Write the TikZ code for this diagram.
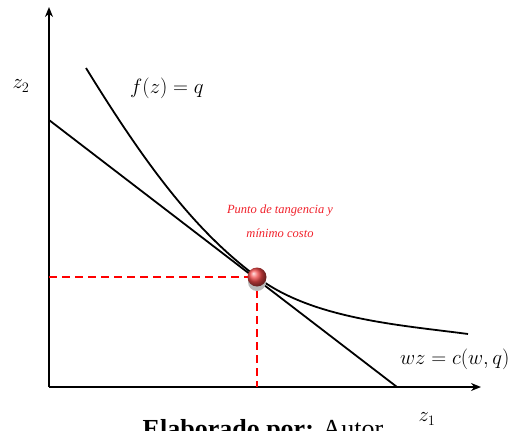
\documentclass[tikz,border=0pt]{standalone}
\usepackage{fontspec}
\setmainfont{Liberation Serif}
\usetikzlibrary{arrows.meta}
\definecolor{dotred}{HTML}{F04848}
\definecolor{txtred}{HTML}{F0202A}
\tikzset{
  axis/.style={line width=2pt,-{Stealth[length=10pt,width=8pt]}},
  curveline/.style={line width=1.8pt},
  guide/.style={red,line width=1.7pt,dash pattern=on 8pt off 5pt},
  lbl/.style={inner sep=0pt,font=\fontsize{21}{24}\selectfont},
  note/.style={inner sep=0pt,text=txtred,font=\fontsize{12.5}{14}\selectfont\itshape}
}
\begin{document}
\begin{tikzpicture}[x=1pt,y=-1pt]
\useasboundingbox (0,0) rectangle (517,431);
\clip (0,0) rectangle (517,431);
% axes
\coordinate (O) at (49,387);
\coordinate (ytop) at (49,7);
\coordinate (xend) at (481,387);
\draw[axis] (O) -- (ytop);
\draw[axis] (O) -- (xend);
% budget line
\coordinate (b1) at (49,120);
\coordinate (b2) at (397,387);
\draw[curveline] (b1) -- (b2);
% isoquant
\coordinate (c1) at (86,68);
\coordinate (T) at (257,277);
\coordinate (c2) at (468,334);
\draw[curveline] (c1) .. controls (150,172) and (198,233) .. (T)
  .. controls (312,319) and (400,325) .. (c2);
% guides
\coordinate (gx) at (49,277);
\coordinate (gy) at (257,387);
\draw[guide] (gx) -- (T);
\draw[guide] (T) -- (gy);
% dot
\fill[gray!55] (257,282) circle (9pt);
\node[circle,minimum size=19pt,inner sep=0pt,ball color=dotred,shading=ball] (dot) at (T) {};
% labels
\node[lbl] (z2) at (21,86) {$z_2$};
\node[lbl,anchor=west] (fz) at (130,88) {$f(z)=q$};
\node[lbl,anchor=west] (wz) at (400,359) {$wz=c(w,q)$};
\node[lbl] (z1) at (427,419) {$z_1$};
\node[note] (n1) at (280,211) {Punto de tangencia y};
\node[note] (n2) at (280,233) {mínimo costo};
\node[inner sep=0pt,anchor=base,font=\fontsize{26}{28}\selectfont] (src) at (263,437) {\textbf{Elaborado por:} Autor};
\end{tikzpicture}
\end{document}
